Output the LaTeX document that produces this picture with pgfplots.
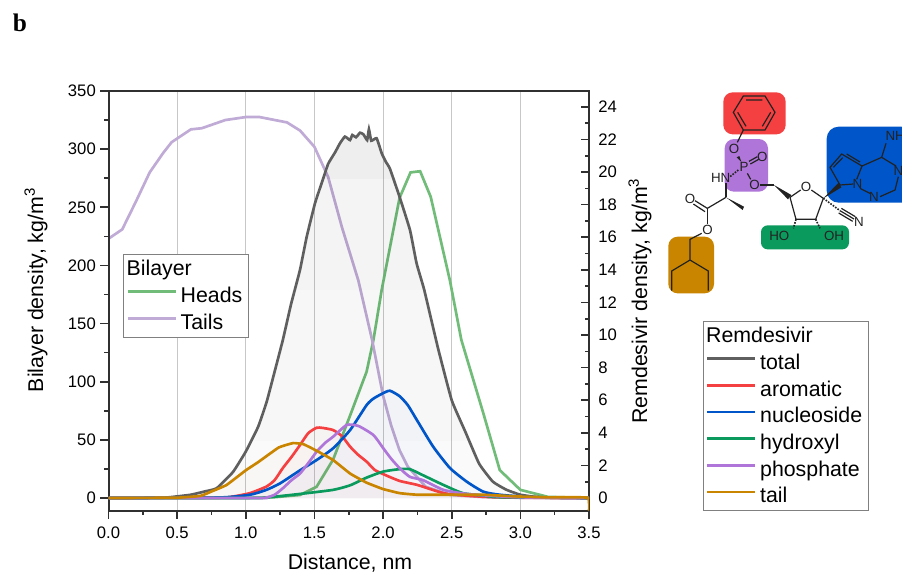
\documentclass[border=0pt]{standalone}
\usepackage{pgfplots}
\usepackage{pgfplotstable}
\usepackage{fontspec}
\setmainfont{Liberation Sans}
\newfontfamily\serifb{Liberation Serif}
\pgfplotsset{compat=1.18}
\definecolor{cTotal}{HTML}{5F5F5F}
\definecolor{cArom}{HTML}{F44040}
\definecolor{cNuc}{HTML}{0055C8}
\definecolor{cHyd}{HTML}{0B9A5E}
\definecolor{cPho}{HTML}{AF75D8}
\definecolor{cTail}{HTML}{C98500}
\definecolor{cHeads}{HTML}{70BC78}
\definecolor{cTails}{HTML}{C0AAD6}
\definecolor{cFrame}{HTML}{303030}
\definecolor{cBond}{HTML}{222222}
\pgfplotstableread{
x y
0.0 223
0.1 231
0.2 255
0.3 280
0.4 297
0.46 306
0.6 317
0.68 318
0.85 325
1.0 327.6
1.1 327.6
1.3 323
1.395 316
1.5 302
1.6 276
1.7 233
1.82 187
1.92 136
2.0 88
2.06 62
2.12 41
2.18 27
2.31 9.7
2.49 2.6
2.73 0.8
3.0 0.2
3.5 0
}\tails
\pgfplotstableread{
x y
0.0 0
1.0 0
1.2 0.6
1.395 2.6
1.516 9.7
1.636 33
1.76 71
1.88 108.6
1.93 136
1.99 179
2.12 258
2.2 280
2.27 281
2.347 259
2.487 187
2.57 136
2.73 73
2.85 24
3.0 7
3.2 1
3.5 0
}\heads
\pgfplotstableread{
x y
0.0 0
0.4 0.02
0.5 0.1
0.6 0.2
0.7 0.4
0.788 0.6
0.907 1.6
1.0 2.85
1.09 4.37
1.152 5.9
1.21 7.75
1.27 9.7
1.33 11.9
1.395 14.0
1.443 16.0
1.504 18.08
1.556 19.4
1.60 20.5
1.65 21.2
1.686 21.76
1.722 22.17
1.759 21.96
1.776 22.27
1.803 22.13
1.832 22.41
1.857 22.31
1.884 21.96
1.897 22.62
1.914 21.92
1.953 22.07
1.99 21.15
2.02 20.63
2.05 20.2
2.12 18.48
2.196 16.44
2.244 14.4
2.30 12.76
2.4 9.2
2.5 6.0
2.6 4.05
2.7 2.1
2.8 1.0
2.9 0.5
3.0 0.2
3.1 0.08
3.2 0.03
3.5 0
}\total
\pgfplotstableread{
x y
0.0 0
0.8 0.02
0.9 0.08
1.03 0.3
1.15 0.7
1.21 1.1
1.27 1.84
1.334 2.53
1.395 3.25
1.455 3.98
1.516 4.31
1.56 4.3
1.636 4.17
1.70 3.8
1.76 3.15
1.82 2.64
1.88 2.23
1.94 1.72
2.0 1.47
2.12 1.05
2.25 0.8
2.44 0.3
2.6 0.15
2.8 0.05
3.1 0.01
3.5 0
}\arom
\pgfplotstableread{
x y
0.0 0
0.8 0.03
1.03 0.2
1.15 0.5
1.25 0.9
1.395 1.7
1.516 2.33
1.636 3.05
1.76 4.17
1.88 5.7
1.93 6.1
2.0 6.43
2.05 6.58
2.12 6.25
2.18 5.7
2.245 4.8
2.365 3.15
2.487 1.84
2.61 1.0
2.73 0.39
2.85 0.2
3.09 0.05
3.5 0
}\nuc
\pgfplotstableread{
x y
0.0 0
1.05 0
1.15 0.03
1.395 0.25
1.636 0.5
1.76 0.78
1.88 1.25
2.0 1.62
2.12 1.77
2.195 1.77
2.29 1.4
2.44 0.8
2.58 0.3
2.73 0.15
2.85 0.05
3.5 0
}\hyd
\pgfplotstableread{
x y
0.0 0
1.1 0
1.15 0.03
1.21 0.2
1.27 0.6
1.334 1.1
1.395 1.5
1.455 2.14
1.516 2.84
1.576 3.37
1.636 3.76
1.735 4.48
1.82 4.42
1.93 3.86
2.0 3.07
2.06 2.4
2.12 1.84
2.195 1.3
2.29 1.1
2.44 0.5
2.61 0.25
2.85 0.1
3.1 0.02
3.5 0
}\pho
\pgfplotstableread{
x y
0.0 0
0.5 0.02
0.67 0.13
0.75 0.4
0.86 0.8
1.0 1.7
1.09 2.2
1.24 3.1
1.345 3.37
1.42 3.3
1.516 2.9
1.636 2.33
1.76 1.5
1.88 0.94
2.0 0.55
2.12 0.3
2.25 0.2
2.49 0.2
2.73 0.2
2.97 0.1
3.2 0.04
3.49 0.02
3.5 -0.77
}\tail
\pgfplotsset{lgimg/.style={legend image code/.code={\draw[##1,line width=2pt] (0pt,3pt)--(36pt,3pt);}}}
\pgfplotsset{common/.style={
  scale only axis,width=360.375pt,height=314.625pt,
  at={(81.375pt,-382.875pt)},anchor=south west,
  xmin=0,xmax=3.5,
  axis line style={cFrame,line width=1.5pt},
  tick style={cFrame,line width=1.2pt},
  major tick length=6pt,minor tick length=3pt,
  /pgf/number format/assume math mode=true,
  ticklabel style={font=\fontsize{12.5}{14}\selectfont},
}}
\begin{document}
\begin{tikzpicture}
\clip (0pt,0pt) rectangle (676.5pt,-429pt);
\fill[white] (0pt,0pt) rectangle (676.5pt,-429pt);
\node[anchor=base,font=\serifb\bfseries\fontsize{19}{20}\selectfont] at (15pt,-23.5pt) {b};
\begin{axis}[common,
  ymin=-10.75,ymax=350,
  xtick={0,0.5,...,3.5},
  minor xtick={0.25,0.75,...,3.25},
  ytick={0,50,...,350},
  minor ytick={25,75,...,325},
  xtick pos=bottom,ytick pos=left,tick align=outside,
  xmajorgrids,grid style={line width=0.8pt,color=black!22},
  xticklabel style={yshift=-3pt,/pgf/number format/.cd,fixed,fixed zerofill,precision=1},
  every axis x label/.style={at={(rel axis cs:0.5026,-0.125)},anchor=center,font=\fontsize{16}{18}\selectfont},
  every axis y label/.style={at={(rel axis cs:-0.1509,0.5257)},anchor=center,rotate=90,font=\fontsize{16}{18}\selectfont},
  xlabel={Distance, nm},ylabel={Bilayer density, kg/m\textsuperscript{3}},
  legend style={at={(rel axis cs:0.0312,0.6114)},anchor=north west,draw=black!50,line width=0.7pt,
    font=\fontsize{16}{18}\selectfont,inner xsep=2pt,inner ysep=1pt,row sep=0pt,
    nodes={inner ysep=0pt,inner xsep=2.5pt,text height=15pt,text depth=5pt},fill=white},
  legend cell align=left,lgimg,
]
\addlegendimage{empty legend}
\addlegendentry{\hspace*{-40.5pt}Bilayer}
\addplot[cHeads,line width=2pt] table {\heads};
\addlegendentry{Heads}
\addplot[cTails,line width=2pt] table {\tails};
\addlegendentry{Tails}
\end{axis}
\begin{axis}[common,
  ymin=-0.767,ymax=24.97,
  hide x axis,
  ytick={0,2,...,24},
  minor ytick={1,3,...,23},
  ytick pos=right,tick align=inside,
  yticklabel style={xshift=3.5pt},
  every axis y label/.style={at={(rel axis cs:1.106,0.4994)},anchor=center,rotate=90,font=\fontsize{16}{18}\selectfont},
  ylabel={Remdesivir density, kg/m\textsuperscript{3}},
  legend style={at={(rel axis cs:1.2373,0.4517)},anchor=north west,draw=black!50,line width=0.7pt,
    font=\fontsize{16}{18}\selectfont,inner xsep=2pt,inner ysep=1pt,row sep=0pt,
    nodes={inner ysep=0pt,inner xsep=2.5pt,text height=15pt,text depth=5pt},fill=white},
  legend cell align=left,lgimg,
]
% pale fills under the curves
\addplot[draw=none,fill=black,fill opacity=0.018,forget plot] table {\total} \closedcycle;
\begin{scope}
\clip (axis cs:0,3.5) rectangle (axis cs:3.5,25);
\addplot[draw=none,fill=black,fill opacity=0.012,forget plot] table {\total} \closedcycle;
\end{scope}
\begin{scope}
\clip (axis cs:0,12.8) rectangle (axis cs:3.5,25);
\addplot[draw=none,fill=black,fill opacity=0.012,forget plot] table {\total} \closedcycle;
\end{scope}
\begin{scope}
\clip (axis cs:0,19.6) rectangle (axis cs:3.5,25);
\addplot[draw=none,fill=black,fill opacity=0.025,forget plot] table {\total} \closedcycle;
\end{scope}
\addplot[draw=none,fill=cArom,fill opacity=0.02,forget plot] table {\arom} \closedcycle;
\addplot[draw=none,fill=cNuc,fill opacity=0.02,forget plot] table {\nuc} \closedcycle;
\addplot[draw=none,fill=cPho,fill opacity=0.02,forget plot] table {\pho} \closedcycle;
\addplot[draw=none,fill=cTail,fill opacity=0.02,forget plot] table {\tail} \closedcycle;
\addlegendimage{empty legend}
\addlegendentry{\hspace*{-40.5pt}Remdesivir}
\addplot[cTotal,line width=2pt,smooth,tension=0.25] table {\total};
\addlegendentry{total}
\addplot[cArom,line width=2pt,smooth,tension=0.35] table {\arom};
\addlegendentry{aromatic}
\addplot[cNuc,line width=2pt,smooth,tension=0.35] table {\nuc};
\addlegendentry{nucleoside}
\addplot[cHyd,line width=2pt,smooth,tension=0.35] table {\hyd};
\addlegendentry{hydroxyl}
\addplot[cPho,line width=2pt,smooth,tension=0.35] table {\pho};
\addlegendentry{phosphate}
\addplot[cTail,line width=2pt,smooth,tension=0.2] table {\tail};
\addlegendentry{tail}
\end{axis}
% molecule: z coordinates are thirds of a pixel
\begin{scope}[shift={(487.5pt,-60pt)},x=0.25pt,y=-0.25pt,line width=0.9pt,draw=cBond,
  atom/.style={font=\fontsize{10}{11}\selectfont,text=cBond,inner sep=0pt}]
\fill[cArom,rounded corners=7pt] (220,37) rectangle (407,163);
\fill[cPho,rounded corners=7pt] (224,177) rectangle (354,335);
\fill[cNuc,rounded corners=9pt] (530,140) rectangle (790,368);
\fill[cHyd,rounded corners=5pt] (333,436) rectangle (597,508);
\fill[cTail,rounded corners=7pt] (55,470) rectangle (192,640);
% benzene
\draw (280,48)--(345,48)--(375,97)--(345,150)--(280,150)--(250,97)--cycle;
\draw (288,60)--(337,60) (362,97)--(337,139) (288,139)--(263,97);
\draw (280,150)--(262,187);
\node[atom] at (252,208) {O};
\fill[cBond] (260,232)--(268,228)--(274,246)--cycle;
\node[atom] at (282,262) {P};
\draw (297,244)--(322,230) (301,252)--(326,238);
\node[atom] at (337,230) {O};
\draw (292,280)--(302,298);
\node[atom] at (314,315) {O};
\draw[densely dotted,line width=1.2pt] (265,270)--(240,290);
\node[atom] at (212,293) {HN};
\draw (228,310)--(228,352);
\fill[cBond] (228,352)--(282,380)--(278,390)--cycle;
\draw (228,352)--(172,385);
\draw (172,385)--(135,362) (165,395)--(130,372);
\node[atom] at (120,357) {O};
\draw (172,385)--(172,432);
\node[atom] at (173,450) {O};
\draw (155,460)--(120,478)--(120,540)--(65,573)--(65,632) (120,540)--(175,573)--(175,632);
\draw (330,315)--(372,315);
\fill[cBond] (372,315)--(424,345)--(414,358)--cycle;
\draw (420,352)--(452,330) (484,330)--(520,355)--(497,418)--(438,418)--(420,352);
\node[atom] at (468,322) {O};
\draw[densely dotted,line width=1.2pt] (438,418)--(430,445) (497,418)--(510,445);
\node[atom] at (388,468) {HO};
\node[atom] at (552,468) {OH};
\fill[cBond] (520,355)--(566,308)--(574,322)--cycle;
\draw[densely dotted,line width=1.2pt] (520,355)--(570,392);
\draw (570,392)--(612,417) (574,385)--(616,410) (566,399)--(608,424);
\node[atom] at (627,425) {N};
\draw (570,315)--(540,262)--(575,222)--(636,258)--(620,298) (570,315)--(610,312);
\draw (550,262)--(578,233) (590,222)--(630,246);
\draw (636,258)--(695,232)--(738,258) (745,290)--(735,330)--(690,350) (660,340)--(630,325);
\draw (695,232)--(708,190);
\node[atom] at (622,312) {N};
\node[atom] at (672,350) {N};
\node[atom] at (745,272) {N};
\node[atom,anchor=west] at (705,167) {NH};
\end{scope}
\end{tikzpicture}
\end{document}
